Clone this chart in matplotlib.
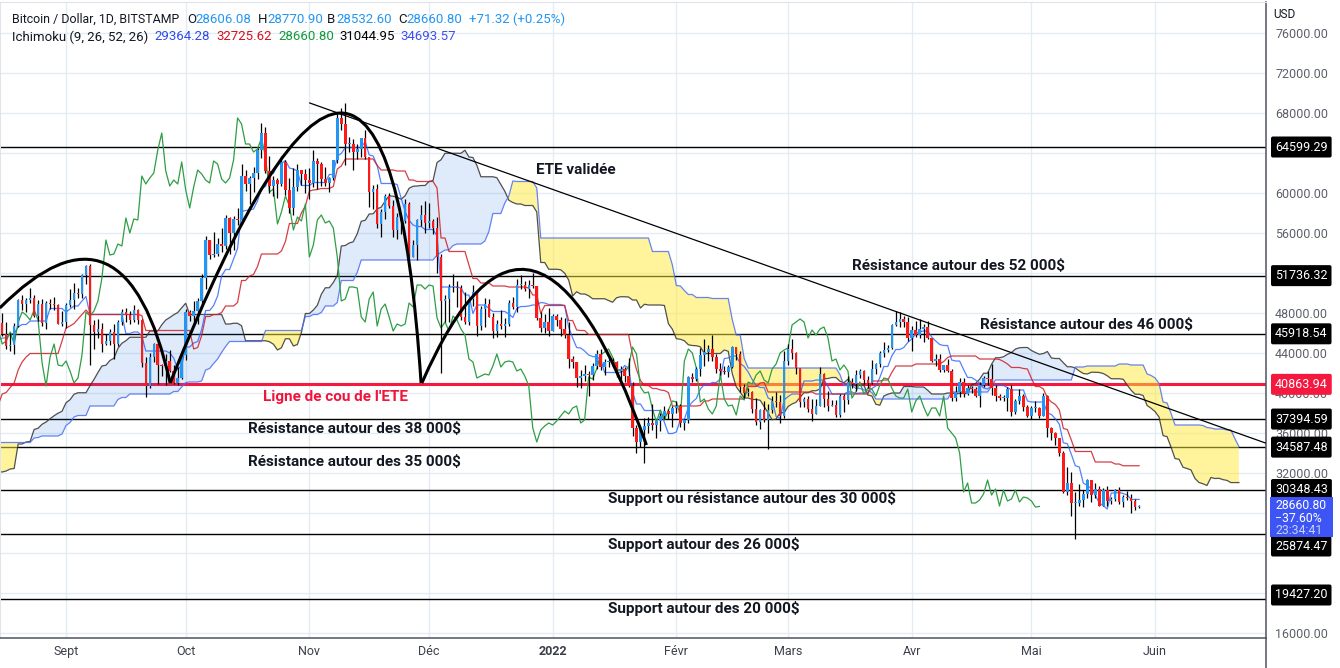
import numpy as np
import pandas as pd
import matplotlib
matplotlib.use("Agg")
import matplotlib.pyplot as plt
from matplotlib.path import Path
from matplotlib.patches import PathPatch, Rectangle
from matplotlib.transforms import blended_transform_factory

plt.rcParams['font.family'] = ['Roboto', 'DejaVu Sans']
plt.rcParams['text.parse_math'] = False

# BTC/USD daily candles (Bitstamp), 15 Aug 2021 -> 28 May 2022, in k$
first_day = "2021-08-15"
first_open = 47.10
high = [
    47.4, 48.0, 47.1, 46.0, 47.0, 49.4, 49.8, 49.5, 50.5, 49.8, 49.3, 49.4, 49.2, 49.4, 49.6, 48.9, 48.2,
    49.0, 50.4, 51.0, 50.5, 51.9, 52.8, 52.9, 47.3, 47.4, 47.0, 45.9, 46.4, 46.9, 47.3, 48.4, 48.5, 48.2, 48.8,
    48.4, 47.4, 43.6, 44.0, 45.0, 45.1, 42.9, 43.9, 44.3, 42.8, 42.6, 44.1,
    48.4, 48.3, 49.2, 49.5, 51.9, 55.7, 55.3, 56.1, 55.5, 56.5, 57.8, 57.6, 57.7, 58.5, 62.9, 62.3, 61.7, 62.6,
    64.5, 67.0, 66.6, 63.7, 61.7, 61.5, 63.7, 63.3, 61.5, 62.5, 62.9, 62.3, 62.4,
    62.5, 64.3, 63.5, 63.1, 62.6, 61.6, 63.3, 68.0, 68.5, 69.0, 65.6, 65.4, 64.9, 65.5, 66.3, 63.6, 60.8, 60.9,
    58.4, 59.9, 60.0, 59.3, 58.0, 57.7, 59.4, 59.1, 55.3, 57.4, 58.8, 59.2,
    59.0, 57.4, 57.6, 53.9, 49.8, 50.9, 51.9, 51.2, 50.8, 50.1, 49.5, 50.8, 50.3, 48.7, 49.5, 49.4, 48.0, 47.3,
    48.3, 47.5, 49.3, 49.6, 51.4, 51.8, 51.2, 51.3, 52.0, 50.7, 48.1, 47.9, 48.5,
    47.9, 47.9, 47.6, 47.5, 47.1, 43.7, 43.1, 42.3, 42.8, 42.2, 43.0, 44.3, 44.4, 43.4, 43.8, 43.5, 43.2, 42.7,
    42.6, 43.5, 41.1, 36.8, 36.5, 37.5, 37.6, 38.9, 37.2, 38.0, 38.7, 38.4, 38.7,
    39.2, 38.9, 37.4, 41.7, 42.0, 42.6, 44.5, 45.4, 44.8, 45.8, 43.9, 43.0, 42.7, 42.8, 44.7, 44.6, 44.2, 40.9,
    40.5, 40.2, 39.5, 38.4, 39.2, 38.9, 39.7, 40.1, 39.8, 44.2,
    44.9, 45.4, 44.1, 42.5, 39.6, 39.7, 39.4, 39.4, 42.6, 42.0, 40.2, 39.3, 39.3, 39.9, 39.9, 41.7, 41.5, 42.3,
    42.4, 42.3, 41.7, 43.3, 43.0, 44.2, 45.1, 44.8, 46.9, 48.2, 48.1, 47.7, 47.6,
    46.7, 47.2, 47.4, 46.9, 47.2, 45.5, 43.9, 43.9, 42.8, 43.4, 42.4, 40.7, 41.5, 41.5, 40.8, 40.7, 40.6, 41.1,
    41.7, 42.2, 42.9, 40.8, 39.9, 39.8, 40.6, 40.8, 39.4, 40.4, 39.9, 38.8,
    38.7, 39.2, 38.6, 40.05, 39.8, 36.6, 36.1, 35.5, 34.2, 32.6, 32.1, 30.1, 30.9, 30.3, 31.4, 31.3, 31.0, 30.7,
    30.5, 30.7, 29.6, 30.4, 30.65, 29.8, 30.2, 29.9, 29.4, 28.7709,
]
low = [
    45.5, 45.7, 44.4, 44.2, 43.9, 46.6, 48.3, 48.1, 49.0, 47.6, 47.2, 46.7, 46.4, 48.4, 48.3, 46.9, 46.7,
    46.5, 48.6, 48.4, 49.5, 49.5, 50.9, 42.8, 44.4, 45.5, 44.1, 44.8, 44.8, 43.4, 44.7, 46.8, 47.1, 46.9, 47.1,
    46.9, 42.6, 39.6, 40.5, 43.1, 40.9, 41.7, 40.8, 42.1, 40.9, 40.8, 41.4,
    43.3, 47.2, 47.1, 46.9, 49.0, 50.4, 53.4, 53.6, 53.7, 54.1, 54.4, 53.9, 54.3, 56.8, 56.9, 60.2, 58.9, 60.1,
    61.4, 63.5, 62.0, 60.0, 59.7, 59.5, 60.7, 59.8, 58.0, 57.8, 60.2, 60.8, 60.0,
    59.4, 60.6, 60.4, 60.7, 60.7, 60.1, 61.3, 63.0, 66.3, 62.8, 64.1, 62.3, 63.4, 63.6, 63.4, 58.6, 58.4, 56.5,
    55.6, 57.4, 58.5, 55.6, 55.4, 55.9, 57.0, 53.6, 53.6, 53.3, 56.7, 56.0,
    56.5, 55.9, 52.0, 42.0, 47.1, 47.1, 50.1, 48.6, 47.3, 46.9, 46.8, 48.7, 45.7, 46.3, 46.6, 47.6, 45.5, 45.6,
    46.4, 45.6, 46.7, 48.4, 48.1, 50.4, 50.2, 49.5, 50.5, 47.3, 46.1, 46.0, 45.7,
    46.2, 46.7, 45.7, 45.5, 42.5, 42.5, 40.6, 40.5, 41.2, 39.7, 41.3, 42.4, 42.3, 41.8, 42.6, 42.6, 41.6, 41.3,
    41.1, 40.6, 35.7, 34.0, 34.6, 33.0, 36.0, 36.3, 35.5, 36.2, 37.4, 37.4, 36.6,
    38.0, 36.6, 36.3, 37.0, 41.1, 41.2, 41.7, 42.7, 43.2, 43.2, 42.0, 41.8, 41.9, 41.6, 42.5, 43.3, 40.1, 39.5,
    39.7, 38.0, 36.8, 36.4, 37.1, 34.4, 38.0, 38.6, 37.0, 37.5,
    42.8, 43.4, 41.9, 38.6, 38.6, 38.1, 37.2, 37.9, 38.7, 38.6, 38.2, 38.7, 37.6, 37.6, 38.1, 38.9, 40.5, 40.2,
    41.5, 40.9, 40.5, 40.9, 41.9, 42.6, 43.6, 44.1, 44.4, 46.7, 46.6, 46.6, 45.2,
    44.2, 45.6, 45.5, 45.1, 45.4, 43.1, 42.7, 42.1, 42.1, 42.1, 39.2, 39.2, 39.6, 39.6, 39.8, 40.0, 39.6, 38.6,
    40.6, 40.8, 39.8, 39.2, 39.3, 39.2, 38.2, 37.7, 37.9, 38.9, 38.2, 37.6,
    37.4, 38.1, 37.5, 37.7, 35.6, 35.3, 34.8, 33.7, 30.0, 29.8, 27.7, 25.4, 28.7, 28.6, 29.5, 29.1, 29.5, 28.7,
    28.7, 28.7, 28.9, 29.2, 28.9, 28.6, 29.3, 28.02, 28.3, 28.5326,
]
close = [
    47.0, 45.9, 44.7, 44.8, 46.7, 49.3, 48.9, 49.3, 49.5, 47.7, 48.9, 47.0, 49.0, 48.9, 48.8, 46.9, 47.1,
    48.8, 49.3, 50.0, 49.9, 51.8, 52.7, 46.8, 46.1, 46.4, 44.9, 45.2, 46.1, 44.9, 47.1, 48.1, 47.8, 47.3, 48.3,
    47.3, 43.0, 40.7, 43.6, 44.9, 42.8, 42.7, 43.2, 42.2, 41.0, 41.5, 43.8,
    48.1, 47.7, 48.2, 49.2, 51.5, 55.3, 53.8, 53.9, 54.9, 54.7, 57.5, 56.0, 57.4, 57.3, 61.7, 60.9, 61.5, 62.0,
    64.3, 66.0, 62.2, 60.7, 61.3, 60.9, 63.1, 60.3, 58.5, 60.6, 62.3, 61.9, 61.3,
    61.0, 63.2, 62.9, 61.4, 61.0, 61.5, 63.3, 67.5, 66.9, 64.9, 64.9, 64.1, 64.4, 65.5, 63.6, 60.1, 60.4, 56.9,
    58.1, 59.7, 58.7, 56.3, 57.6, 57.2, 58.9, 53.6, 54.8, 57.3, 57.8, 57.0,
    57.2, 56.5, 53.6, 49.2, 49.4, 50.6, 50.6, 50.5, 47.6, 47.1, 49.4, 50.1, 46.7, 48.4, 48.9, 47.6, 46.2, 46.9,
    46.7, 46.9, 49.0, 48.6, 50.8, 50.8, 50.4, 50.8, 50.7, 47.5, 46.5, 47.1, 46.2,
    47.7, 47.3, 46.4, 45.8, 43.4, 43.1, 41.5, 41.7, 41.9, 41.8, 42.7, 43.9, 42.6, 43.1, 43.2, 43.1, 42.2, 42.4,
    41.7, 40.7, 36.5, 35.1, 36.3, 36.7, 37.0, 36.8, 37.2, 37.7, 38.2, 37.9, 38.5,
    38.7, 37.0, 37.3, 41.6, 41.4, 42.4, 43.8, 44.1, 44.4, 43.6, 42.4, 42.2, 42.1, 42.6, 44.6, 43.9, 40.6, 40.0,
    40.1, 38.4, 37.1, 38.3, 37.3, 38.3, 39.2, 39.1, 37.7, 43.2,
    44.4, 44.0, 42.5, 39.1, 39.4, 38.4, 37.9, 38.7, 41.9, 39.4, 38.7, 38.8, 37.8, 39.7, 39.3, 41.1, 40.9, 41.8,
    42.2, 41.3, 41.0, 42.4, 42.9, 44.0, 44.3, 44.5, 46.8, 47.1, 47.4, 47.1, 45.5,
    46.3, 45.8, 46.4, 46.6, 45.5, 43.2, 43.4, 42.3, 42.8, 42.2, 39.5, 40.1, 41.1, 39.9, 40.5, 40.4, 39.7, 40.8,
    41.5, 41.4, 40.5, 39.7, 39.5, 39.5, 40.4, 38.1, 39.2, 39.7, 38.6, 37.7,
    38.5, 38.5, 37.7, 39.7, 36.5, 36.0, 35.5, 34.0, 30.1, 31.0, 29.0, 29.0, 29.3, 29.9, 31.3, 29.8, 30.4, 28.7,
    30.3, 29.2, 29.4, 30.3, 29.1, 29.6, 29.5, 29.2, 28.5895, 28.6608,
]

# highs / lows of the 78 days before the first candle (29 May -> 14 Aug 2021), only for the Ichimoku
pre_high = [
    37.2, 36.4, 37.5,
    37.9, 38.2, 39.3, 37.9, 37.9, 36.4, 36.8, 34.0, 37.5, 38.4, 37.7, 37.4, 39.3, 41.0, 41.3, 40.5, 39.6, 38.2,
    36.4, 36.1, 35.8, 33.3, 34.8, 35.3, 35.5, 32.7, 34.6, 35.1, 36.6, 36.0,
    35.0, 33.9, 34.9, 35.9, 35.3, 35.1, 35.0, 34.0, 34.1, 34.3, 34.6, 34.6, 33.3, 33.1, 33.2, 32.2, 31.9, 32.4,
    31.9, 31.0, 32.8, 32.6, 33.6, 34.4, 35.2, 40.5, 39.5, 40.9, 40.6, 42.2, 42.3,
    42.6, 40.4, 39.7, 39.9, 41.3, 43.0, 44.7, 45.3, 46.4, 46.7, 46.7, 46.2, 48.1, 47.9,
]
pre_low = [
    34.0, 33.4, 34.2,
    35.7, 35.9, 37.2, 35.6, 34.8, 35.3, 33.4, 31.0, 32.4, 35.8, 35.9, 34.6, 34.8, 38.8, 39.5, 38.2, 37.4, 35.2,
    34.8, 33.4, 31.3, 28.8, 31.7, 32.3, 31.3, 30.2, 32.0, 33.9, 34.2, 34.1,
    32.8, 32.7, 33.0, 34.0, 33.2, 33.5, 33.8, 32.1, 32.3, 33.0, 33.3, 32.7, 32.2, 31.6, 31.1, 31.1, 31.2, 31.2,
    30.5, 29.3, 29.5, 31.7, 32.0, 33.0, 33.9, 35.2, 36.4, 38.8, 39.3, 38.3, 41.1,
    39.4, 38.7, 37.6, 37.5, 37.4, 39.9, 42.5, 43.2, 42.9, 44.7, 45.4, 43.8, 44.2, 45.9,
]

levels = [64599.29, 51736.32, 45918.54, 37394.59, 34587.48, 30348.43, 25874.47, 19427.20]
neckline = 40863.94
month_labels = ['Sept', 'Oct', 'Nov', 'Déc', '2022', 'Févr', 'Mars', 'Avr', 'Mai', 'Juin']

# text notes: (text, day index, price, colour)
notes = [
    ("ETE validée", 134.9, 62300, '#131722'),
    ("Résistance autour des 52 000$", 214.0, 52700, '#131722'),
    ("Résistance autour des 46 000$", 246.2, 46800, '#131722'),
    ("Ligne de cou de l'ETE", 66.5, 39600, '#F0143C'),
    ("Résistance autour des 38 000$", 62.5, 36400, '#131722'),
    ("Résistance autour des 35 000$", 62.5, 33100, '#131722'),
    ("Support ou résistance autour des 30 000$", 152.9, 29400, '#131722'),
    ("Support autour des 26 000$", 152.9, 24800, '#131722'),
    ("Support autour des 20 000$", 152.9, 18400, '#131722'),
]

# hand drawn shapes: head & shoulders arcs (start, control, end) and the trend line
arcs = [
    [(0.4, 48500), (31.9, 61150), (43.1, 41000)],
    [(43.1, 41000), (97.2, 95000), (106.0, 41000)],
    [(106.2, 41000), (134.1, 66500), (162.5, 34800)],
]
trend = [(78.1, 69000), (330.0, 33250)]

UP = '#2196F3'
DOWN = '#FF1A1A'

# ---- data prep
c = np.array(close) * 1000
h = np.array(high) * 1000
l = np.array(low) * 1000
o = np.concatenate([[first_open * 1000], c[:-1]])
o[-1] = 28606.08
n = len(c)
x = np.arange(n)

H = pd.Series(np.concatenate([pre_high, high]) * 1000, index=np.arange(-len(pre_high), n))
L = pd.Series(np.concatenate([pre_low, low]) * 1000, index=H.index)
tenkan = (H.rolling(9).max() + L.rolling(9).min()) / 2
kijun = (H.rolling(26).max() + L.rolling(26).min()) / 2
span_a = (tenkan + kijun) / 2
span_b = (H.rolling(52).max() + L.rolling(52).min()) / 2
shift = 25
xs = span_a.index.values + shift

dates = pd.date_range(first_day, periods=n + 40, freq='D')
month_pos = np.where(dates.day == 1)[0][:len(month_labels)]

# ---- figure
fig = plt.figure(figsize=(13.4, 6.68), dpi=100)
ax = fig.add_axes([0, 30 / 668, 1266 / 1340, 636 / 668])
ax.set_xlim(0.45, 317.8)
ax.set_ylim(15500, 79100)

ax.set_xticks(month_pos)
ax.set_xticklabels(month_labels, fontsize=9, color='#3B3F4A')
for lab in ax.get_xticklabels():
    if lab.get_text() == '2022':
        lab.set_fontweight('bold')
yt = np.arange(16000, 76001, 4000)
hidden = {64000, 52000, 28000, 24000}
ax.set_yticks(yt)
ax.set_yticklabels(['' if v in hidden else f'{v:.2f}' for v in yt], fontsize=9, color='#5D606B')
ax.yaxis.tick_right()
ax.tick_params(axis='both', length=0)
ax.tick_params(axis='y', pad=6.5)
ax.tick_params(axis='x', pad=5)
ax.grid(True, color='#E3ECF3', lw=1, zorder=0)
ax.set_axisbelow(True)
for s in ['top', 'left']:
    ax.spines[s].set_color('#E0E3EB')
for s in ['right', 'bottom']:
    ax.spines[s].set_color('#50535E')
    ax.spines[s].set_linewidth(1.1)
fig.add_artist(plt.Line2D([1266 / 1340] * 2, [0, 30 / 668], color='#50535E', lw=1.1))

# horizontal levels
for lv in levels:
    ax.axhline(lv, color='#000000', lw=1, zorder=1)
ax.axhline(neckline, color='#F5183F', lw=2.2, zorder=1)

# Ichimoku cloud + lines
a = span_a.values
b = span_b.values
ax.fill_between(xs, a, b, where=a >= b, interpolate=True, color='#1E6FE0', alpha=0.14, lw=0, zorder=2)
ax.fill_between(xs, a, b, where=a < b, interpolate=True, color='#FFEB3B', alpha=0.5, lw=0, zorder=2)
ax.plot(xs, a, color='#333333', lw=0.9, alpha=0.85, zorder=2.5)
ax.plot(xs, b, color='#4C6EF5', lw=0.9, alpha=0.85, zorder=2.5)
ax.plot(tenkan.index.values, tenkan.values, color='#2962FF', lw=0.9, alpha=0.8, zorder=2.6)
ax.plot(kijun.index.values, kijun.values, color='#D01C24', lw=0.9, alpha=0.85, zorder=2.6)
ax.plot(x - shift, c, color='#2E9E44', lw=0.9, zorder=2.6)

# candles
up = c >= o
ax.vlines(x, l, h, color='#000000', lw=0.9, zorder=3)
body = np.maximum(np.abs(c - o), 90)
bottom = np.minimum(o, c)
ax.bar(x[up], body[up], bottom=bottom[up], width=0.64, color=UP, lw=0, zorder=4)
ax.bar(x[~up], body[~up], bottom=bottom[~up], width=0.64, color=DOWN, lw=0, zorder=4)

# drawings
for p0, p1, p2 in arcs:
    path = Path([p0, p1, p2], [Path.MOVETO, Path.CURVE3, Path.CURVE3])
    ax.add_patch(PathPatch(path, fill=False, ec='#000000', lw=2.2, zorder=6))
ax.plot([trend[0][0], trend[1][0]], [trend[0][1], trend[1][1]], color='#000000', lw=0.9, zorder=6)

for txt, xi, yi, col in notes:
    ax.text(xi, yi, txt, fontsize=11, fontweight='bold', color=col, va='center', ha='left', zorder=7)

# price tags on the right scale
tr = blended_transform_factory(ax.transAxes, ax.transData)
tag_pos = {64599.29: 64599.29, 51736.32: 51736.32, 45918.54: 45918.54, 37394.59: 37394.59,
           34587.48: 34587.48, 30348.43: 30348.43, 25874.47: 24700, 19427.20: 19800}
for lv in levels:
    ax.text(1275 / 1266, tag_pos[lv], f'{lv:.2f}', transform=tr, fontsize=9, color='white', va='center',
            ha='left', clip_on=False, zorder=10,
            bbox=dict(boxstyle='round,pad=0.32,rounding_size=0.15', fc='#000000', ec='none'))
ax.text(1275 / 1266, neckline, f'{neckline:.2f}', transform=tr, fontsize=9, color='white', va='center',
        ha='left', clip_on=False, zorder=10,
        bbox=dict(boxstyle='round,pad=0.32,rounding_size=0.15', fc='#F5183F', ec='none'))
ax.add_patch(Rectangle((1270 / 1266, 25650), 63 / 1266, 4000, transform=tr, fc='#3D55F5', ec='none',
                       clip_on=False, zorder=10))
ax.text(1275 / 1266, 28750, f'{c[-1]:.2f}', transform=tr, fontsize=8.8, color='white', va='center',
        clip_on=False, zorder=11)
ax.text(1275 / 1266, 27480, '\u221237.60%', transform=tr, fontsize=8.8, color='white', va='center',
        clip_on=False, zorder=11)
ax.text(1275 / 1266, 26230, '23:34:41', transform=tr, fontsize=8.8, color='#C9D1FF', va='center',
        clip_on=False, zorder=11)
fig.text(1273 / 1340, 1 - 15 / 668, 'USD', fontsize=8.5, color='#131722', va='center')

# header
def px(xp, yp):
    return xp / 1340, 1 - yp / 668

head1 = [("Bitcoin / Dollar, 1D, BITSTAMP", 12, '#131722'), ("O", 187, '#131722'), ("28606.08", 195, '#2196F3'),
         ("H", 258, '#131722'), ("28770.90", 267, '#2196F3'), ("B", 327, '#131722'), ("28532.60", 336, '#2196F3'),
         ("C", 398, '#131722'), ("28660.80", 406, '#2196F3'), ("+71.32 (+0.25%)", 469, '#2196F3')]
head2 = [("Ichimoku (9, 26, 52, 26)", 12, '#131722'), ("29364.28", 154, '#2E4BF0'), ("32725.62", 216, '#D5101C'),
         ("28660.80", 278, '#119A3A'), ("31044.95", 339, '#000000'), ("34693.57", 400, '#3F4FF0')]
for i, (txt, xp, col) in enumerate(head1):
    fig.text(*px(xp, 19.5), txt, fontsize=8.9 if i == 0 else 9.5, color=col, va='center')
for txt, xp, col in head2:
    fig.text(*px(xp, 37), txt, fontsize=9.5, color=col, va='center')

fig.savefig('out.png', dpi=100, facecolor='white')
